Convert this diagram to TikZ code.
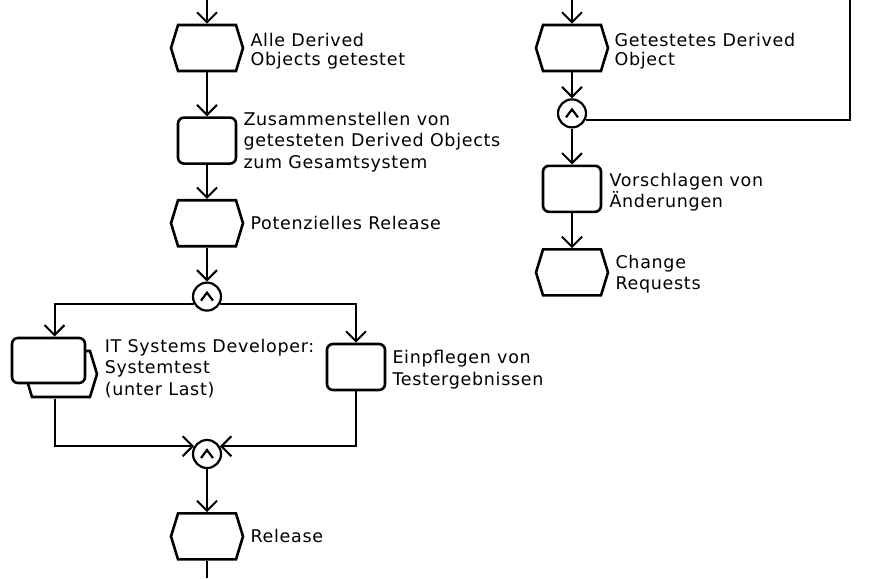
\documentclass[tikz,border=0pt]{standalone}
\usepackage{fontspec}
\setmainfont{DejaVu Sans}[LetterSpace=4]
\usepackage{tikz}
\usetikzlibrary{arrows.meta,fit,positioning,shapes.symbols}
\tikzset{
    %Define standard arrow tip
    >={Straight Barb[length=10pt,width=20pt]},
    %Define style for product hexagons
    produkt/.style={
           signal, signal to=east and west,
           signal pointer angle=146,
           draw=black, line width=2.6pt,
           minimum width=72pt,
           minimum height=46pt,
           inner sep=0pt,
           fill=white},
    %Define style for activities
    aktivitaet/.style={
           rectangle,
           rounded corners=6pt,
           draw=black, line width=2.6pt,
           minimum width=58pt,
           minimum height=46pt,
           inner sep=0pt,
           fill=white},
    %Define style for joins
    und/.style={
           circle,
           draw=black, line width=2.2pt,
           minimum size=28pt,
           inner sep=0pt,
           path picture={\draw[line width=2.2pt]
             ([xshift=-6pt,yshift=-4pt]path picture bounding box.center)
             -- ++(6pt,8pt) -- ++(6pt,-8pt);}},
    %Define style for texts
    beschr/.style={
           align=left,
           inner sep=0pt,
           font=\fontsize{17.5}{21.5}\selectfont},
    % Define arrow style
    pfeil/.style={
           ->,
           line width=2pt},
    linie/.style={
           line width=2pt}
}
\begin{document}
\begin{tikzpicture}[x=1pt,y=1pt,node distance=40pt]
\useasboundingbox (0,0) rectangle (893,-578);
% linke Spalte
\coordinate (lstart) at (207,0);
\node[produkt] (alle) at (207,-48) {};
\node[aktivitaet, below=44pt of alle] (zus) {};
\node[produkt, below=34pt of zus] (potrel) {};
\node[und, below=34pt of potrel] (und1) {};
\node[produkt] (sysback) at (61,-374) {};
\node[aktivitaet, minimum width=73pt, minimum height=45pt] (systest) at (48.5,-360.5) {};
\node[fit=(sysback)(systest), inner sep=0pt] (sys) {};
\node[aktivitaet] (einpfl) at (356,-367) {};
\node[und] (und2) at (207,-454) {};
\node[produkt, below=43pt of und2] (release) {};
\coordinate (lende) at (207,-578);
% rechte Spalte
\coordinate (rstart) at (572,0);
\node[produkt] (getestet) at (572,-48) {};
\node[und, below=26pt of getestet] (und3) {};
\node[aktivitaet, below=36pt of und3] (vorschl) {};
\node[produkt, below=35pt of vorschl] (cr) {};
\coordinate (rzufluss) at (850,0);
% Beschriftungen
\node[beschr, right=6pt of alle, yshift=-3.5pt, font=\fontsize{17.5}{19}\selectfont] {Alle Derived\\Objects getestet};
\node[beschr, right=6pt of zus, yshift=-1.5pt] {Zusammenstellen von\\getesteten Derived Objects\\zum Gesamtsystem};
\node[beschr, right=6pt of potrel] {Potenzielles Release};
\node[beschr, right=6pt of sys, yshift=-1pt] {IT Systems Developer:\\Systemtest\\(unter Last)};
\node[beschr, right=6pt of einpfl, yshift=-2.5pt] {Einpflegen von\\Testergebnissen};
\node[beschr, right=6pt of release] {Release};
\node[beschr, right=5pt of getestet, yshift=-3.5pt, font=\fontsize{17.5}{19}\selectfont] {Getestetes Derived\\Object};
\node[beschr, right=7pt of vorschl, yshift=-3.5pt] {Vorschlagen von\\Änderungen};
\node[beschr, right=6pt of cr, yshift=-2pt] {Change\\Requests};
% Verbindungen
\draw[pfeil] (lstart) -- (alle);
\draw[pfeil] (alle) -- (zus);
\draw[pfeil] (zus) -- (potrel);
\draw[pfeil] (potrel) -- (und1);
\draw[pfeil] (und1.211) -| (sys.north);
\draw[pfeil] (und1.-31) -| (einpfl.north);
\draw[pfeil] (sys.south) |- (und2.149);
\draw[pfeil] (einpfl.south) |- (und2.31);
\draw[pfeil] (und2) -- (release);
\draw[linie] (release) -- (lende);
\draw[pfeil] (rstart) -- (getestet);
\draw[pfeil] (getestet) -- (und3);
\draw[pfeil] (und3) -- (vorschl);
\draw[pfeil] (vorschl) -- (cr);
\draw[linie] (rzufluss) |- (und3.-26);
\end{tikzpicture}
\end{document}
